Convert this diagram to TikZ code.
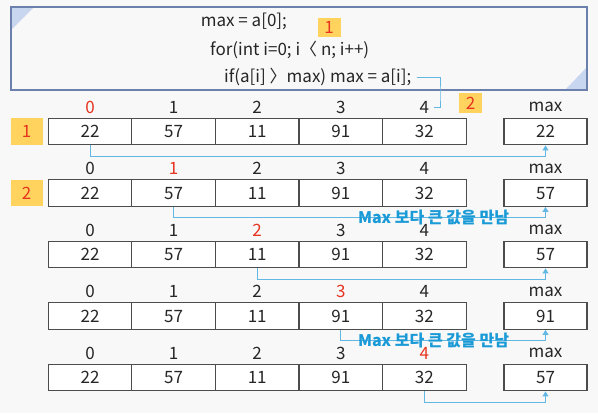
\documentclass[tikz,border=0pt]{standalone}
\usepackage{fontspec}
\setmainfont{Noto Sans CJK KR}
\usetikzlibrary{arrows.meta}

\definecolor{boxline}{HTML}{6C80AE}
\definecolor{corner}{HTML}{C9D6EF}
\definecolor{badgefill}{HTML}{FFD35E}
\definecolor{idxred}{HTML}{E63420}
\definecolor{flowblue}{HTML}{62B8E3}
\definecolor{notetext}{HTML}{1A9AD6}
\definecolor{paper}{HTML}{F8F8F8}

\tikzset{
  cell/.style={draw=black!70, line width=1.2pt, fill=white, minimum width=83.6pt,
    minimum height=26.5pt, inner sep=0pt, font=\fontsize{17}{20}\selectfont, text=black!85},
  maxcell/.style={cell, minimum width=83pt},
  idx/.style={inner sep=0pt, font=\fontsize{17}{20}\selectfont, text=black!85},
  badge/.style={fill=badgefill, text=idxred, inner sep=0pt, font=\fontsize{17}{20}\selectfont},
  flow/.style={draw=flowblue, line width=1pt, -{Triangle[width=6pt,length=5pt]}},
  note/.style={text=notetext, inner sep=0pt, font=\fontsize{16}{19}\selectfont\bfseries},
  codeline/.style={anchor=base west, inner sep=0pt, font=\fontsize{17}{20}\selectfont, text=black!85},
}

\begin{document}
\begin{tikzpicture}[x=1pt,y=-1pt]
  \newcommand{\cw}{83.6}
  \newcommand{\rh}{61.5}
  \useasboundingbox[fill=paper] (0,0) rectangle (598,413);

  % code box
  \fill[corner] (11,7) -- (34,7) -- (11,30) -- cycle;
  \fill[corner] (587,90) -- (565,90) -- (587,67) -- cycle;
  \draw[boxline, line width=1.5pt] (11,7) rectangle (587,90);

  \node[codeline] (code-1) at (200.7,26.7) {max = a[0];};
  \node[codeline] (code-2) at (210,55) {for(int i=0; i〈 n; i++)};
  \node[codeline] (code-3) at (224,82.7) {if(a[i] 〉max) max = a[i];};

  \node[badge, minimum width=23pt, minimum height=18.5pt] (b-top-1) at (329.2,27.5) {1};
  \node[badge, minimum width=23pt, minimum height=20pt] (b-top-2) at (470.5,103) {2};

  % array rows
  \foreach \row/\m in {1/22, 2/57, 3/57, 4/91, 5/57} {
    \foreach \v [count=\col from 0] in {22, 57, 11, 91, 32} {
      \ifnum\col=\numexpr\row-1\relax \def\ic{idxred}\else \def\ic{black!85}\fi
      \node[idx, text=\ic] (l-\row-\col) at (90+\cw*\col, 107+\rh*\row-\rh) {\col};
      \node[cell] (c-\row-\col) at (90+\cw*\col, 131.6+\rh*\row-\rh) {\v};
    }
    \node[idx] (ml-\row) at (545.5, 107+\rh*\row-\rh) {max};
    \node[maxcell] (m-\row) at (545.5, 131.6+\rh*\row-\rh) {\m};
  }

  \node[badge, minimum width=32pt, minimum height=26.5pt] (b-left-1) at (26.7,131.6) {1};
  \node[badge, minimum width=32pt, minimum height=26.5pt] (b-left-2) at (26.7,193.1) {2};

  % compare arrows
  \foreach \row in {1,...,5} {
    \pgfmathtruncatemacro{\src}{\row-1}
    \draw[flow] (c-\row-\src.south) -- ++(0,11) -| (m-\row.south);
  }

  \node[note] (n-2) at (433.5,217.4) {Max 보다 큰 값을 만남};
  \node[note] (n-4) at (433.5,340.4) {Max 보다 큰 값을 만남};

  \coordinate (bend) at (440,95);
  \draw[flowblue, line width=1pt] ([xshift=5pt]code-3.east) -| (bend) |- ([xshift=5pt]l-1-4.east);

\end{tikzpicture}
\end{document}
